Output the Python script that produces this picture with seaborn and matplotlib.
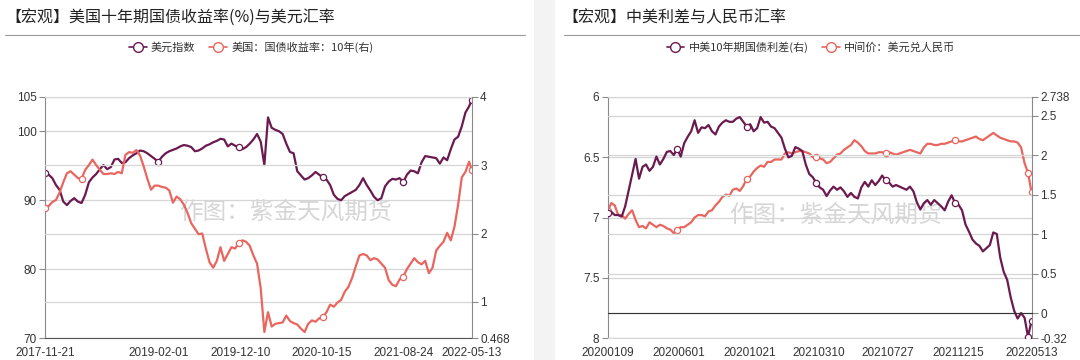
import matplotlib
matplotlib.use("Agg")
import matplotlib.pyplot as plt
import matplotlib.dates as mdates
from matplotlib.lines import Line2D
from matplotlib.patches import Rectangle
import pandas as pd
import seaborn as sns

# ---- left panel data: dollar index vs US 10y yield (every 2 weeks) ----
us_dates = pd.date_range("2017-11-21", "2022-05-13", freq="14D").append(
    pd.DatetimeIndex(["2022-05-13"])
)
usd_index = [
    94.0, 93.7, 93.2, 92.2, 91.5, 89.8, 89.3, 89.9, 90.3, 89.8,
    89.6, 90.8, 92.6, 93.3, 93.8, 94.5, 95.1, 94.5, 94.8, 95.9,
    96.0, 95.4, 95.5, 96.1, 96.5, 96.8, 97.2, 97.1, 96.8, 96.4,
    96.0, 95.6, 96.3, 96.8, 97.1, 97.3, 97.5, 97.8, 98.0, 97.9,
    97.7, 97.1, 97.2, 97.5, 97.9, 98.1, 98.4, 98.6, 98.9, 98.8,
    97.8, 98.2, 97.9, 97.7, 97.4, 97.7, 98.2, 98.8, 99.6, 98.5,
    95.1, 102.0, 100.5, 100.2, 100.0, 99.6, 98.2, 97.0, 96.8, 94.2,
    93.6, 93.0, 93.2, 93.6, 94.1, 93.7, 93.3, 93.0, 92.2, 90.8,
    90.2, 90.0, 90.6, 90.9, 91.2, 91.5, 92.2, 93.2, 92.2, 91.4,
    90.5, 90.0, 90.3, 92.0, 92.7, 93.1, 93.0, 93.2, 92.6, 93.7,
    94.3, 94.2, 93.9, 95.5, 96.4, 96.3, 96.2, 96.1, 95.3, 96.2,
    95.8, 97.4, 98.8, 99.2, 100.7, 102.7, 103.6, 104.5,
]
us10y = [
    2.37, 2.40, 2.46, 2.49, 2.60, 2.75, 2.88, 2.91, 2.86, 2.81,
    2.80, 2.93, 3.00, 3.08, 3.00, 2.93, 2.87, 2.87, 2.88, 2.87,
    2.90, 2.88, 3.15, 3.19, 3.18, 3.22, 3.14, 2.98, 2.80, 2.64,
    2.70, 2.70, 2.68, 2.67, 2.63, 2.45, 2.54, 2.50, 2.42, 2.30,
    2.15, 2.07, 1.99, 2.00, 1.78, 1.58, 1.50, 1.60, 1.80, 1.60,
    1.70, 1.80, 1.78, 1.86, 1.90, 1.88, 1.82, 1.68, 1.56, 1.20,
    0.56, 0.85, 0.64, 0.68, 0.69, 0.70, 0.80, 0.72, 0.69, 0.67,
    0.61, 0.56, 0.68, 0.73, 0.71, 0.76, 0.78, 0.85, 0.96, 0.93,
    0.99, 1.03, 1.15, 1.22, 1.35, 1.52, 1.68, 1.70, 1.68, 1.61,
    1.64, 1.62, 1.56, 1.50, 1.32, 1.25, 1.23, 1.33, 1.37, 1.48,
    1.56, 1.64, 1.58, 1.55, 1.60, 1.42, 1.50, 1.75, 1.82, 1.88,
    2.01, 1.90, 2.10, 2.42, 2.82, 2.90, 3.05, 2.93,
]
us_xticks = ["2017-11-21", "2019-02-01", "2019-12-10", "2020-10-15",
             "2021-08-24", "2022-05-13"]
us_minor = ["2018-01-28", "2019-10-06", "2020-08-14", "2021-06-21", "2022-03-11"]
us_left_ticks = [70, 80, 90, 100, 105]
us_right_ticks = [0.468, 1, 2, 3, 4]
us_right_labels = ["0.468", "1", "2", "3", "4"]

# ---- right panel data: CN-US spread vs USDCNY central parity (weekly) ----
cn_dates = pd.date_range("2020-01-09", "2022-05-13", freq="7D")
cn_us_spread = [
    1.26, 1.28, 1.24, 1.24, 1.22, 1.35, 1.55, 1.75, 1.95, 1.70,
    1.85, 1.88, 1.80, 1.85, 1.98, 1.88, 1.95, 2.04, 2.05, 2.00,
    2.08, 1.98, 2.15, 2.23, 2.30, 2.44, 2.28, 2.35, 2.34, 2.38,
    2.30, 2.26, 2.36, 2.41, 2.44, 2.42, 2.42, 2.46, 2.48, 2.42,
    2.36, 2.39, 2.30, 2.34, 2.48, 2.41, 2.42, 2.36, 2.34, 2.28,
    2.22, 2.08, 1.97, 1.99, 2.10, 2.08, 2.05, 1.88, 1.76, 1.72,
    1.65, 1.59, 1.56, 1.48, 1.55, 1.60, 1.56, 1.59, 1.54, 1.47,
    1.52, 1.47, 1.45, 1.59, 1.66, 1.60, 1.68, 1.62, 1.67, 1.74,
    1.68, 1.65, 1.60, 1.62, 1.60, 1.58, 1.56, 1.60, 1.54, 1.40,
    1.31, 1.39, 1.43, 1.37, 1.43, 1.39, 1.35, 1.30, 1.41, 1.49,
    1.39, 1.37, 1.30, 1.12, 1.03, 0.93, 0.88, 0.85, 0.78, 0.82,
    0.86, 1.02, 1.00, 0.70, 0.52, 0.42, 0.20, 0.03, -0.07, 0.00,
    -0.06, -0.30, -0.10,
]
usdcny_mid = [
    6.95, 6.88, 6.90, 6.98, 6.98, 7.01, 6.97, 6.94, 7.02, 7.08,
    7.07, 7.09, 7.04, 7.06, 7.08, 7.06, 7.07, 7.09, 7.10, 7.13,
    7.10, 7.08, 7.08, 7.06, 7.04, 7.00, 6.98, 6.98, 6.99, 6.95,
    6.94, 6.90, 6.87, 6.83, 6.81, 6.82, 6.77, 6.76, 6.78, 6.74,
    6.68, 6.66, 6.62, 6.59, 6.57, 6.58, 6.54, 6.54, 6.52, 6.52,
    6.52, 6.47, 6.46, 6.47, 6.46, 6.45, 6.45, 6.46, 6.47, 6.50,
    6.50, 6.51, 6.52, 6.55, 6.54, 6.51, 6.48, 6.47, 6.44, 6.42,
    6.40, 6.36, 6.38, 6.41, 6.45, 6.47, 6.47, 6.47, 6.46, 6.46,
    6.47, 6.46, 6.47, 6.48, 6.47, 6.46, 6.45, 6.44, 6.45, 6.46,
    6.47, 6.42, 6.39, 6.39, 6.40, 6.40, 6.39, 6.39, 6.38, 6.37,
    6.36, 6.37, 6.37, 6.36, 6.35, 6.34, 6.33, 6.35, 6.36, 6.34,
    6.32, 6.30, 6.32, 6.34, 6.35, 6.36, 6.37, 6.37, 6.38, 6.42,
    6.55, 6.63, 6.79,
]
cn_xticks = ["2020-01-09", "2020-06-01", "2020-10-21", "2021-03-10",
             "2021-07-27", "2021-12-15", "2022-05-13"]
cn_minor = ["2020-03-20", "2020-08-06", "2020-12-28", "2021-05-18",
            "2021-10-07", "2022-03-04"]
cn_left_ticks = [6, 6.5, 7, 7.5, 8]
cn_left_labels = ["6", "6.5", "7", "7.5", "8"]
cn_right_ticks = [-0.32, 0, 0.5, 1, 1.5, 2, 2.5, 2.738]
cn_right_labels = ["-0.32", "0", "0.5", "1", "1.5", "2", "2.5", "2.738"]

df_us = pd.DataFrame({"date": us_dates, "dxy": usd_index, "y10": us10y})
df_cn = pd.DataFrame({"date": cn_dates, "spread": cn_us_spread, "cny": usdcny_mid})

PURPLE = "#6b1a50"
SALMON = "#e8665f"
GRID = "#d6d6d6"
SPINE = "#8a8a8a"

sns.set_style("white")
plt.rcParams["font.family"] = ["Liberation Sans", "Noto Sans CJK SC", "DejaVu Sans"]
CJK = ["Noto Sans CJK SC", "DejaVu Sans"]

fig = plt.figure(figsize=(10.8, 3.6), dpi=100)
fig.patches.append(Rectangle((534 / 1080, 0), 21 / 1080, 1, transform=fig.transFigure,
                             facecolor="#f3f3f3", edgecolor="none", zorder=0))


def line(ax, df, col, color, marks):
    sns.lineplot(data=df, x="date", y=col, ax=ax, color=color, linewidth=1.6,
                 marker="o", markevery=marks, markersize=4.5,
                 markerfacecolor="white", markeredgecolor=color,
                 markeredgewidth=0.9, legend=False)
    ax.set_xlabel("")
    ax.set_ylabel("")


def style(ax, ax2):
    for a in (ax, ax2):
        for s in a.spines.values():
            s.set_visible(False)
        a.tick_params(axis="y", labelsize=8.5, labelcolor="#333333", color=SPINE,
                      length=4, width=0.8, pad=2)
    ax.spines["left"].set_visible(True)
    ax.spines["left"].set_color(SPINE)
    ax2.spines["right"].set_visible(True)
    ax2.spines["right"].set_color(SPINE)
    ax.spines["top"].set_visible(True)
    ax.spines["top"].set_color(GRID)
    ax.grid(axis="y", color=GRID, linewidth=0.9)
    ax2.grid(axis="y", color=GRID, linewidth=0.9)
    ax.grid(axis="x", visible=False)
    ax.set_axisbelow(True)
    ax2.set_axisbelow(True)


# ================= left panel =================
axL = fig.add_axes([45 / 1080, 1 - 338.3 / 360, 426.7 / 1080, 241.6 / 360])
axL2 = axL.twinx()
line(axL, df_us, "dxy", PURPLE, [0, 31, 53, 76, 98, 117])
line(axL2, df_us, "y10", SALMON, [0, 10, 53, 76, 98, 117])
axL.set_xlim(pd.Timestamp(us_xticks[0]), pd.Timestamp(us_xticks[-1]))
axL.set_ylim(70, 105)
axL.set_yticks(us_left_ticks)
axL2.set_ylim(0.468, 4)
axL2.set_yticks(us_right_ticks)
axL2.set_yticklabels(us_right_labels)
style(axL, axL2)
axL.spines["bottom"].set_visible(True)
axL.spines["bottom"].set_color("#555555")
axL.set_xticks(pd.to_datetime(us_xticks))
axL.set_xticks(pd.to_datetime(us_minor), minor=True)
axL.xaxis.set_major_formatter(mdates.DateFormatter("%Y-%m-%d"))
axL.tick_params(axis="x", which="major", length=0, labelsize=8.5,
                labelcolor="#333333", pad=6.5)
axL.tick_params(axis="x", which="minor", length=4, color="#555555", width=0.8)
axL.text(0.5625, 0.523, "作图：紫金天风期货", transform=axL.transAxes, ha="center",
         va="center", fontsize=17, color="#d6d6d6", family=CJK, zorder=0)

# ================= right panel =================
axR = fig.add_axes([607.8 / 1080, 1 - 338.3 / 360, 424.2 / 1080, 241.6 / 360])
axR2 = axR.twinx()
line(axR, df_cn, "cny", SALMON, [0, 20, 40, 60, 80, 100, 121, 122])
line(axR2, df_cn, "spread", PURPLE, [0, 20, 40, 60, 80, 100, 121, 122])
axR.set_xlim(pd.Timestamp(cn_xticks[0]), pd.Timestamp(cn_xticks[-1]))
axR.set_ylim(8, 6)
axR.set_yticks(cn_left_ticks)
axR.set_yticklabels(cn_left_labels)
axR2.set_ylim(-0.32, 2.738)
axR2.set_yticks(cn_right_ticks)
axR2.set_yticklabels(cn_right_labels)
style(axR, axR2)
axR.spines["bottom"].set_visible(True)
axR.spines["bottom"].set_color(GRID)
axR.set_xticks(pd.to_datetime(cn_xticks))
axR.set_xticks(pd.to_datetime(cn_minor), minor=True)
axR.xaxis.set_major_formatter(mdates.DateFormatter("%Y%m%d"))
axR.tick_params(axis="x", which="major", length=0, labelsize=8.5,
                labelcolor="#333333", pad=6.5)
axR.tick_params(axis="x", which="minor", length=0)
# zero line of the spread axis carries the date tick marks
axR2.xaxis.set_visible(True)
axR2.spines["bottom"].set_visible(True)
axR2.spines["bottom"].set_position(("data", 0))
axR2.spines["bottom"].set_color("#333333")
axR2.tick_params(axis="x", which="major", length=0, labelbottom=False)
axR2.tick_params(axis="x", which="minor", length=4, color="#555555", width=0.8,
                 labelbottom=False)
axR.text(0.5356, 0.51, "作图：紫金天风期货", transform=axR.transAxes, ha="center",
         va="center", fontsize=17, color="#d6d6d6", family=CJK, zorder=0)

# ================= titles, rules, legends =================
fig.text(5 / 1080, 1 - 18 / 360, "【宏观】美国十年期国债收益率(%)与美元汇率",
         fontsize=11.5, color="#222222", va="center", family=CJK)
fig.text(562 / 1080, 1 - 18 / 360, "【宏观】中美利差与人民币汇率",
         fontsize=11.5, color="#222222", va="center", family=CJK)
fig.add_artist(Line2D([5 / 1080, 525 / 1080], [1 - 35 / 360] * 2,
                      color="#9a9a9a", linewidth=0.8))
fig.add_artist(Line2D([564 / 1080, 1], [1 - 35 / 360] * 2,
                      color="#9a9a9a", linewidth=0.8))


def handle(color):
    return Line2D([], [], color=color, linewidth=1.2, marker="o", markersize=7,
                  markerfacecolor="white", markeredgecolor=color, markeredgewidth=1)


legL = fig.legend([handle(PURPLE), handle(SALMON)],
                  ["美元指数", "美国：国债收益率：10年(右)"],
                  loc="center", bbox_to_anchor=(251 / 1080, 1 - 47 / 360), ncol=2,
                  frameon=False, prop={"family": CJK, "size": 8},
                  handlelength=1.6, handletextpad=0.4, columnspacing=1.2)
for t in legL.get_texts():
    t.set_color("#333333")
legR = fig.legend([handle(PURPLE), handle(SALMON)],
                  ["中美10年期国债利差(右)", "中间价：美元兑人民币"],
                  loc="center", bbox_to_anchor=(811 / 1080, 1 - 47 / 360), ncol=2,
                  frameon=False, prop={"family": CJK, "size": 8},
                  handlelength=1.6, handletextpad=0.4, columnspacing=1.2)
for t in legR.get_texts():
    t.set_color("#333333")

fig.savefig("out.png", dpi=100)
